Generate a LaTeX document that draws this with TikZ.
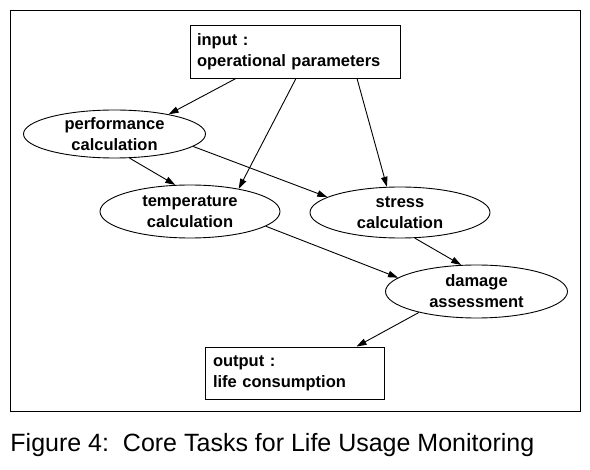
\documentclass[tikz,border=0pt]{standalone}
\usepackage{fontspec}
\setmainfont{Liberation Sans}
\usetikzlibrary{arrows.meta,shapes.geometric}

\begin{document}
\begin{tikzpicture}[x=1pt,y=-1pt,->,>={Triangle[length=10pt,width=6.5pt]},line width=0.9pt,
                    every node/.style={font=\fontsize{16.5}{21}\selectfont\bfseries},
                    task/.style={ellipse, draw, align=center, inner xsep=0pt, inner ysep=-6pt,
                                 minimum width=182pt, minimum height=48pt},
                    iobox/.style={rectangle, draw, align=left, inner xsep=7pt, minimum height=53pt}]
  \useasboundingbox (0,0) rectangle (590,470);
  \draw[-] (10,10) rectangle (580,411);
  \node[iobox, text width=196pt]                          (I)  at (295,51.5)   {input :\\operational parameters};
  \node[task]                                             (PC) at (114.5,134)  {performance\\calculation};
  \node[task, minimum width=180pt, minimum height=53pt]   (TC) at (190,211.5)  {temperature\\calculation};
  \node[task, minimum width=180pt, minimum height=51pt]   (SC) at (400,212.5)  {stress\\calculation};
  \node[task, minimum height=53pt]                        (DA) at (476.5,291.5){damage\\assessment};
  \node[iobox, text width=163pt, inner xsep=8pt, minimum height=52pt] (O) at (294.5,373) {output :\\life consumption};
  \node[anchor=base west, inner sep=0pt, font=\fontsize{25}{30}\selectfont] (cap) at (10,452)
       {Figure 4:\ \ Core Tasks for Life Usage Monitoring};
  \path
    ([xshift=-59pt]I.south) edge (PC.20)
    ([xshift=1pt]I.south)   edge (TC.25)
    ([xshift=62pt]I.south)  edge (SC.117)
    (PC.-58) edge (TC.119)
    (PC.-9)  edge (SC.168)
    (TC.-11) edge (DA.170)
    (SC.-60) edge (DA.120)
    (DA.200) edge ([xshift=62pt]O.north);
\end{tikzpicture}
\end{document}
